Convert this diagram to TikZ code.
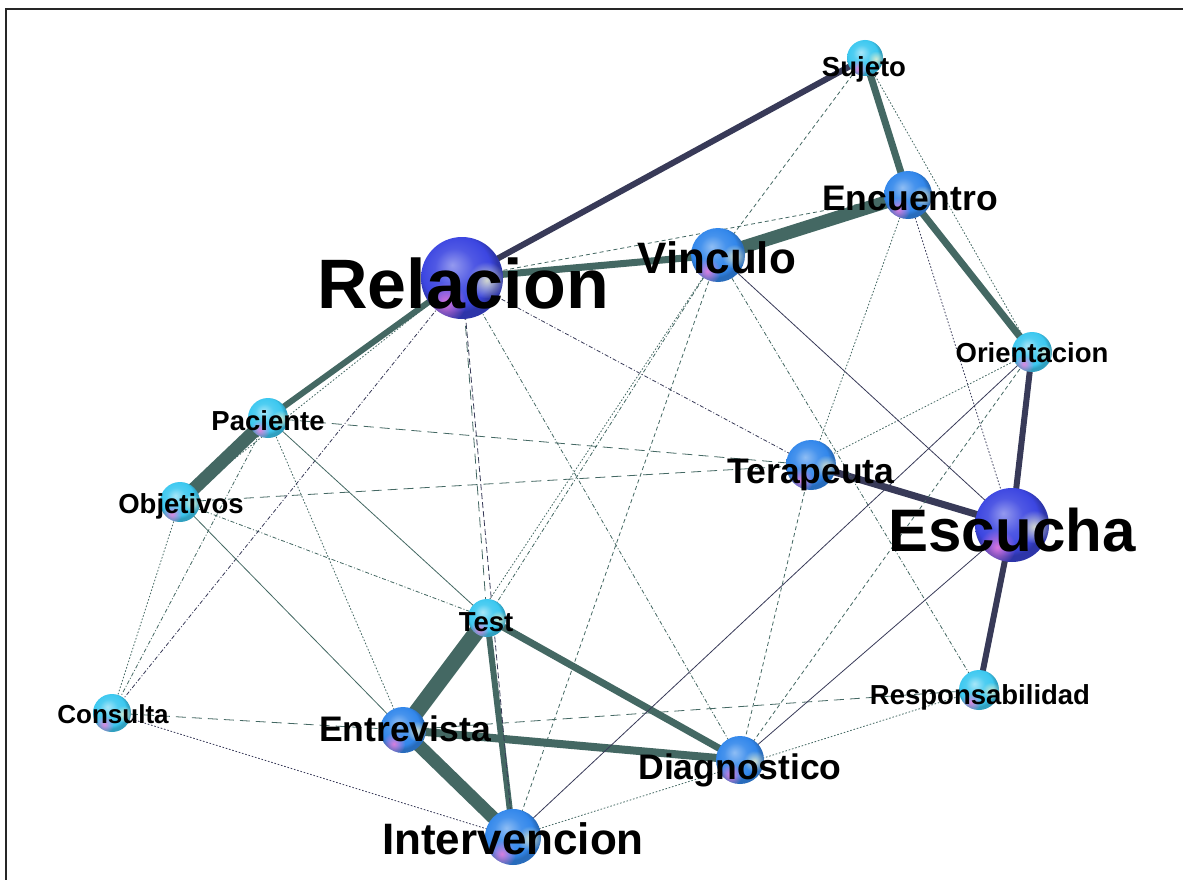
\documentclass[tikz,border=0pt]{standalone}
\usepackage{fontspec}
\setmainfont{Liberation Sans}
\usetikzlibrary{calc,fadings}
\definecolor{edgeteal}{RGB}{68,104,99}
\definecolor{edgenavy}{RGB}{56,58,88}
\definecolor{ballsmall}{RGB}{60,200,240}
\definecolor{ballmid}{RGB}{50,135,235}
\definecolor{ballbig}{RGB}{60,70,225}
\definecolor{blobpink}{RGB}{245,125,220}
\definecolor{blobcream}{RGB}{235,240,205}
\pgfdeclareradialshading{orbsmall}{\pgfpoint{-6bp}{8bp}}{color(0bp)=(ballsmall!45!white); color(12bp)=(ballsmall!90!white); color(21bp)=(ballsmall); color(25bp)=(ballsmall!80!black); color(50bp)=(ballsmall!80!black)}
\pgfdeclareradialshading{orbmid}{\pgfpoint{-6bp}{8bp}}{color(0bp)=(ballmid!55!white); color(12bp)=(ballmid!90!white); color(21bp)=(ballmid); color(25bp)=(ballmid!80!black); color(50bp)=(ballmid!80!black)}
\pgfdeclareradialshading{orbbig}{\pgfpoint{-6bp}{8bp}}{color(0bp)=(ballbig!55!white); color(12bp)=(ballbig!90!white); color(21bp)=(ballbig); color(25bp)=(ballbig!75!black); color(50bp)=(ballbig!75!black)}
\pgfdeclarelayer{paper}
\pgfdeclarelayer{edges}
\pgfsetlayers{paper,edges,main}
\tikzfading[name=blobfade, inner color=transparent!15, outer color=transparent!100]
\newcommand\labfont[1]{\bfseries\fontsize{#1}{#1}\selectfont}

\begin{document}
\begin{tikzpicture}[x=1pt, y=-1pt,
    orb/.style={circle, inner sep=0pt, minimum size=#1},
    tag/.style={anchor=base, inner sep=0pt, font=\labfont{#1}},
    thin/.style={line width=0.8pt},
    dashedteal/.style={thin, draw=edgeteal, dash pattern=on 4pt off 3pt},
    longteal/.style={thin, draw=edgeteal, dash pattern=on 10pt off 6pt},
    dotteal/.style={thin, draw=edgeteal, dash pattern=on 1.6pt off 1.8pt},
    dotnavy/.style={thin, draw=edgenavy, dash pattern=on 1.6pt off 1.8pt},
    dotdashteal/.style={thin, draw=edgeteal, dash pattern=on 4pt off 2pt on 1pt off 2pt},
    dotdashnavy/.style={thin, draw=edgenavy, dash pattern=on 4pt off 2pt on 1pt off 2pt},
    dashnavy/.style={thin, draw=edgenavy, dash pattern=on 6pt off 3pt},
    solidteal/.style={thin, draw=edgeteal},
    solidnavy/.style={thin, draw=edgenavy}
]
    \useasboundingbox (0,0) rectangle (1183,880);
    \begin{pgfonlayer}{paper}
        \fill[white] (0,0) rectangle (1183,880);
        \draw[line width=2pt, black!85] (6,880) -- (6,9) -- (1183,9);
    \end{pgfonlayer}

    % spheres
    \node[orb=36pt, shading=orbsmall] (suj) at (865,58) {};
    \node[orb=48pt, shading=orbmid] (enc) at (908,195) {};
    \node[orb=54pt, shading=orbmid] (vin) at (718,255) {};
    \node[orb=82pt, shading=orbbig] (rel) at (462,278) {};
    \node[orb=40pt, shading=orbsmall] (ori) at (1032,352) {};
    \node[orb=40pt, shading=orbsmall] (pac) at (268,418) {};
    \node[orb=40pt, shading=orbsmall] (obj) at (180,502) {};
    \node[orb=50pt, shading=orbmid] (ter) at (811,465) {};
    \node[orb=74pt, shading=orbbig] (esc) at (1012,525) {};
    \node[orb=38pt, shading=orbsmall] (tes) at (487,618) {};
    \node[orb=38pt, shading=orbsmall] (con) at (112,713) {};
    \node[orb=46pt, shading=orbmid] (ent) at (403,730) {};
    \node[orb=40pt, shading=orbsmall] (res) at (979,690) {};
    \node[orb=48pt, shading=orbmid] (dia) at (740,760) {};
    \node[orb=56pt, shading=orbmid] (int) at (513,837) {};

    \foreach \n/\r in {suj/18, enc/24, vin/27, rel/41, ori/20, pac/20, obj/20, ter/25,
                       esc/37, tes/19, con/19, ent/23, res/20, dia/24, int/28} {
        \begin{scope}
            \clip (\n.center) circle (\r pt);
            \fill[blobpink, path fading=blobfade] ([shift={(-0.4*\r,0.6*\r)}]\n.center) circle (0.5*\r pt);
            \fill[blobcream, path fading=blobfade] ([shift={(0.6*\r,0.05*\r)}]\n.center) circle (0.45*\r pt);
        \end{scope}
    }

    \begin{pgfonlayer}{edges}
        % heavy connectors
        \foreach \a/\b/\w in {rel/vin/7, vin/enc/13, suj/enc/7, enc/ori/7, rel/pac/6,
                              pac/obj/13, tes/ent/16, ent/int/13, tes/int/6, tes/dia/7, ent/dia/8}
            \draw[draw=edgeteal, line width=\w pt] (\a.center) -- (\b.center);
        \foreach \a/\b/\w in {rel/suj/6, ori/esc/6, ter/esc/7, esc/res/6}
            \draw[draw=edgenavy, line width=\w pt] (\a.center) -- (\b.center);

        % light connectors
        \foreach \a/\b in {rel/enc, suj/vin, vin/int, ori/dia, ter/dia}
            \draw[dashedteal] (\a.center) -- (\b.center);
        \foreach \a/\b in {rel/tes, pac/ter, obj/ter, con/ent, ent/res}
            \draw[longteal] (\a.center) -- (\b.center);
        \foreach \a/\b in {suj/ori, rel/obj, vin/ent, enc/ter, ori/ter, obj/con, pac/ent, int/res}
            \draw[dotteal] (\a.center) -- (\b.center);
        \foreach \a/\b in {enc/esc, con/int}
            \draw[dotnavy] (\a.center) -- (\b.center);
        \foreach \a/\b in {rel/dia, vin/tes, vin/res, pac/con, obj/tes}
            \draw[dotdashteal] (\a.center) -- (\b.center);
        \foreach \a/\b in {rel/ter, rel/con}
            \draw[dotdashnavy] (\a.center) -- (\b.center);
        \draw[dashnavy] (rel.center) -- (int.center);
        \foreach \a/\b in {pac/tes, obj/ent}
            \draw[solidteal] (\a.center) -- (\b.center);
        \foreach \a/\b in {vin/esc, ori/int, esc/dia}
            \draw[solidnavy] (\a.center) -- (\b.center);
    \end{pgfonlayer}

    % labels
    \node[tag=70] (rel-t) at (463,308) {Relacion};
    \node[tag=60] (esc-t) at (1012,551) {Escucha};
    \node[tag=44] (vin-t) at (717,273) {Vinculo};
    \node[tag=44] (int-t) at (513,854) {Intervencion};
    \node[tag=35.5] (enc-t) at (910,210) {Encuentro};
    \node[tag=35.5] (ent-t) at (405,741) {Entrevista};
    \node[tag=35.5] (dia-t) at (740,779) {Diagnostico};
    \node[tag=35.5] (ter-t) at (811,483) {Terapeuta};
    \node[tag=27.5] (suj-t) at (864,77) {Sujeto};
    \node[tag=27.5] (ori-t) at (1032,362) {Orientacion};
    \node[tag=27.5] (pac-t) at (268,430) {Paciente};
    \node[tag=27.5] (obj-t) at (181,513) {Objetivos};
    \node[tag=27.5] (tes-t) at (486,631) {Test};
    \node[tag=26] (con-t) at (113,723) {Consulta};
    \node[tag=27.5] (res-t) at (980,704) {Responsabilidad};
\end{tikzpicture}
\end{document}
